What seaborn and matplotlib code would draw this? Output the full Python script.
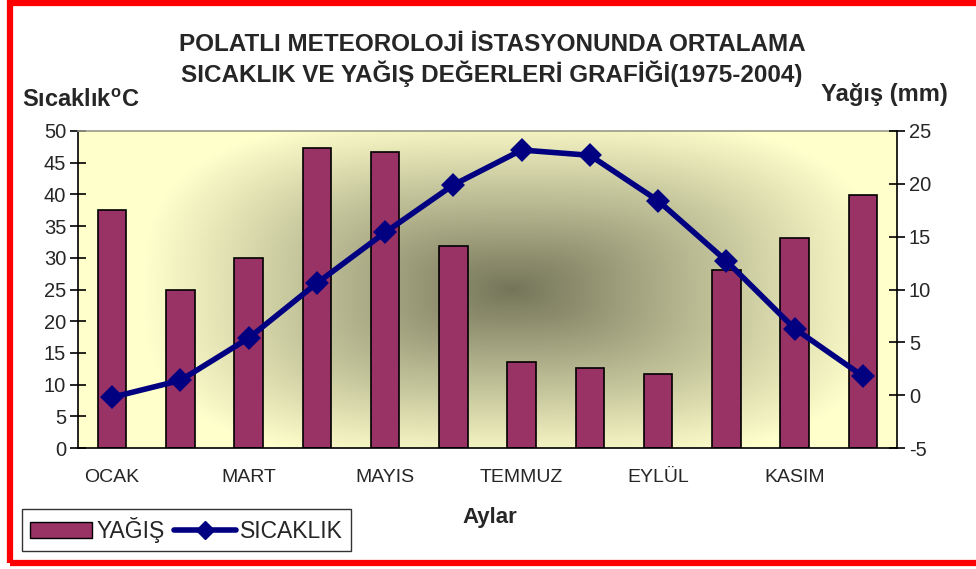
import numpy as np
import matplotlib
matplotlib.use("Agg")
import matplotlib.pyplot as plt
import seaborn as sns
from matplotlib.colors import LinearSegmentedColormap
from matplotlib.patches import Rectangle, Patch
from matplotlib.lines import Line2D

# data
months = ["OCAK", "ŞUBAT", "MART", "NİSAN", "MAYIS", "HAZİRAN",
          "TEMMUZ", "AĞUSTOS", "EYLÜL", "EKİM", "KASIM", "ARALIK"]
yagis = [37.5, 25.0, 29.9, 47.3, 46.7, 31.9, 13.5, 12.6, 11.7, 28.0, 33.1, 39.9]
sicaklik = [-0.2, 1.4, 5.4, 10.6, 15.4, 19.9, 23.2, 22.7, 18.4, 12.7, 6.3, 1.8]
left_ticks = list(range(0, 51, 5))
right_ticks = list(range(-5, 26, 5))

bar_color = "#993366"
line_color = "#000080"

sns.set_style("white")
plt.rcParams["font.family"] = ["Liberation Sans", "DejaVu Sans"]
plt.rcParams["axes.unicode_minus"] = False
plt.rcParams["mathtext.fontset"] = "custom"
plt.rcParams["mathtext.rm"] = "Liberation Sans:bold"

fig = plt.figure(figsize=(9.76, 5.69), dpi=100)
fig.patch.set_facecolor("white")

ax = fig.add_axes([78 / 976, 121 / 569, 819 / 976, 317 / 569])

# shaded plot area (light yellow at the edges, olive in the middle)
gx, gy = np.meshgrid(np.linspace(0, 1, 400), np.linspace(0, 1, 300))
dx = np.abs(gx - 0.53) / 0.45
dy = np.abs(gy - 0.50) / 0.55
r = (dx ** 3 + dy ** 3) ** (1 / 3)
shade = np.clip(1 - r, 0, 1)
cmap = LinearSegmentedColormap.from_list("bg", ["#FFFFCC", "#75755A"])
ax.imshow(shade, cmap=cmap, vmin=0, vmax=1, extent=[0, 1, 0, 1],
          transform=ax.transAxes, aspect="auto", origin="lower", zorder=0)

sns.barplot(x=months, y=yagis, ax=ax, color=bar_color, saturation=1,
            edgecolor="black", linewidth=1.2, width=0.42, zorder=2)

ax2 = ax.twinx()
sns.pointplot(x=months, y=sicaklik, ax=ax2, color=line_color, markers="D",
              markersize=9.5, linewidth=4, errorbar=None)

ax.set_xlim(-0.5, 11.5)
ax.set_ylim(0, 50)
ax2.set_ylim(-5, 25)
ax.set_yticks(left_ticks)
ax2.set_yticks(right_ticks)

ax.set_xticks(range(len(months)))
ax.set_xticklabels([m if i % 2 == 0 else "" for i, m in enumerate(months)], fontsize=14)
ax.set_xticks(np.arange(-0.5, 12, 1), minor=True)
ax.tick_params(axis="x", which="major", length=0, pad=15)
ax.tick_params(axis="x", which="minor", direction="inout", length=11, width=1.2, color="black")
ax.tick_params(axis="y", direction="inout", length=11, width=1.2, labelsize=14.5, pad=3,
               left=True, color="black")
ax2.tick_params(axis="y", direction="inout", length=11, width=1.2, labelsize=14.5, pad=3,
                right=True, color="black")
ax.set_xlabel("")
ax.set_ylabel("")
ax2.set_xlabel("")
ax2.set_ylabel("")

for a in (ax, ax2):
    for s in a.spines.values():
        s.set_visible(False)
ax.spines["left"].set_visible(True)
ax.spines["bottom"].set_visible(True)
ax.spines["top"].set_visible(True)
ax2.spines["right"].set_visible(True)
for s in (ax.spines["left"], ax.spines["bottom"], ax2.spines["right"]):
    s.set_color("black")
    s.set_linewidth(1.2)
ax.spines["top"].set_color("#999988")
ax.spines["top"].set_linewidth(1.2)

# titles and axis captions
fig.text(492 / 976, 1 - 60 / 569,
         "POLATLI METEOROLOJİ İSTASYONUNDA ORTALAMA\nSICAKLIK VE YAĞIŞ DEĞERLERİ GRAFİĞİ(1975-2004)",
         ha="center", va="center", fontsize=17.5, fontweight="bold", linespacing=1.25)
fig.text(22 / 976, 1 - 100 / 569, r"Sıcaklık$^{\mathrm{o}}$C", ha="left", va="center",
         fontsize=17, fontweight="bold")
fig.text(948 / 976, 1 - 94 / 569, "Yağış (mm)", ha="right", va="center",
         fontsize=17, fontweight="bold")
fig.text(490 / 976, 1 - 518 / 569, "Aylar", ha="center", va="center",
         fontsize=16, fontweight="bold")

handles = [Patch(facecolor=bar_color, edgecolor="black", linewidth=1),
           Line2D([], [], color=line_color, linewidth=4, marker="D", markersize=9)]
leg = fig.legend(handles, ["YAĞIŞ", "SICAKLIK"], loc="lower left",
                 bbox_to_anchor=(22 / 976, 18 / 569), ncol=2, fontsize=16.5,
                 frameon=True, fancybox=False, handlelength=2.7, handletextpad=0.2,
                 columnspacing=0.4, borderpad=0.35, borderaxespad=0)
leg.get_frame().set_edgecolor("black")
leg.get_frame().set_linewidth(1)

# red frame round the whole picture
fig.patches.append(Rectangle((10 / 976, 6 / 569), 1.2, 560 / 569, transform=fig.transFigure,
                             fill=False, edgecolor="#FF0000", linewidth=4.5, clip_on=False))

fig.savefig("out.png", dpi=100)
